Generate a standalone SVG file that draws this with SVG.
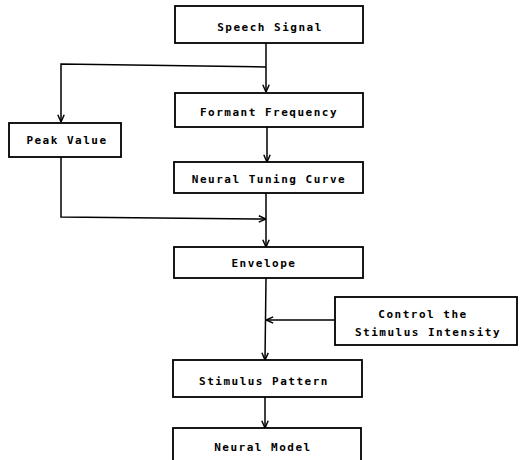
<svg xmlns="http://www.w3.org/2000/svg" width="522" height="460" viewBox="0 0 522 460">
<style>
.box{fill:#fff;stroke:#000;stroke-width:1.8}
.t{font-family:"DejaVu Sans Mono",monospace;font-weight:bold;font-size:11px;letter-spacing:1.5px;text-anchor:middle;fill:#000}
.c{fill:none;stroke:#000;stroke-width:1.5}
</style>
<defs>
<marker id="a" viewBox="0 0 10 10" refX="10" refY="5" markerWidth="8" markerHeight="8" markerUnits="userSpaceOnUse" orient="auto">
<polyline points="1,1 10,5 1,9" fill="none" stroke="#000" stroke-width="1.8"/>
</marker>
</defs>
<rect width="522" height="460" fill="#fff"/>
<g id="connectors">
<line class="c" x1="266" y1="43" x2="266" y2="92" marker-end="url(#a)"/>
<polyline class="c" points="266,67 61,64 61,122" marker-end="url(#a)"/>
<line class="c" x1="267" y1="127" x2="267" y2="162" marker-end="url(#a)"/>
<polyline class="c" points="61,157 61,217 266,219" marker-end="url(#a)"/>
<line class="c" x1="266" y1="193" x2="266" y2="247" marker-end="url(#a)"/>
<line class="c" x1="266" y1="278" x2="265" y2="360" marker-end="url(#a)"/>
<line class="c" x1="335" y1="320" x2="266" y2="320" marker-end="url(#a)"/>
<line class="c" x1="265" y1="397" x2="265" y2="428" marker-end="url(#a)"/>
</g>
<g id="speech"><rect class="box" x="175" y="6" width="188" height="37"/><text class="t" x="270" y="31">Speech Signal</text></g>
<g id="formant"><rect class="box" x="175" y="93" width="188" height="34"/><text class="t" x="269" y="116">Formant Frequency</text></g>
<g id="peak"><rect class="box" x="9" y="123" width="112" height="34"/><text class="t" x="67" y="144">Peak Value</text></g>
<g id="tuning"><rect class="box" x="174" y="162" width="189" height="31"/><text class="t" x="269" y="183">Neural Tuning Curve</text></g>
<g id="envelope"><rect class="box" x="174" y="247" width="189" height="31"/><text class="t" x="264" y="267">Envelope</text></g>
<g id="control"><rect class="box" x="335" y="297" width="182" height="48"/><text class="t" x="423" y="318">Control the</text><text class="t" x="428" y="336">Stimulus Intensity</text></g>
<g id="stimulus"><rect class="box" x="173" y="360" width="189" height="37"/><text class="t" x="264" y="385">Stimulus Pattern</text></g>
<g id="model"><rect class="box" x="173" y="428" width="188" height="40"/><text class="t" x="263" y="451">Neural Model</text></g>
</svg>
